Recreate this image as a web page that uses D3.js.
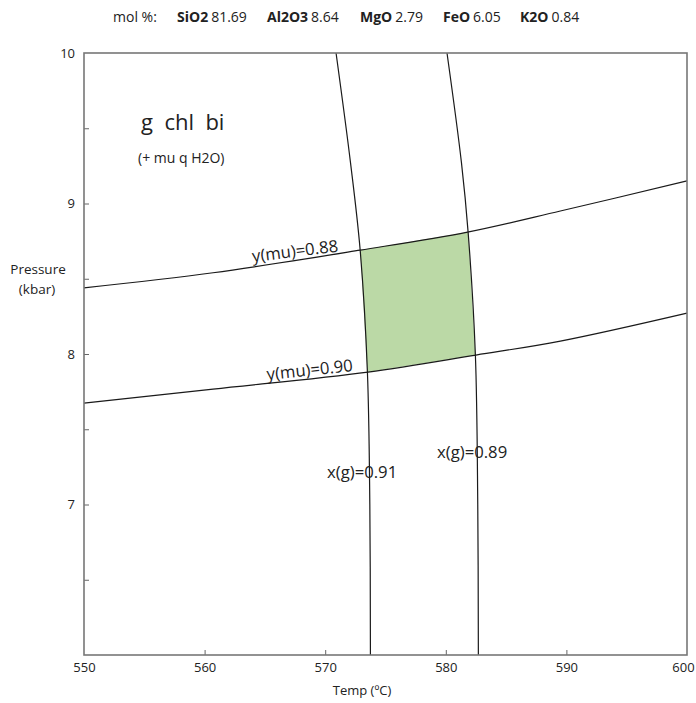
<!DOCTYPE html>
<html>
<head>
<meta charset="utf-8">
<script src="https://cdn.jsdelivr.net/npm/d3@7"></script>
<style>
  body { margin: 0; background: #fff; }
  text { font-family: "Open Sans", sans-serif; fill: #222; }
</style>
</head>
<body>
<div id="chart"></div>
<script>
// bulk composition (mol %)
var oxides = ["SiO2", "Al2O3", "MgO", "FeO", "K2O"];
var molPct = ["81.69", "8.64", "2.79", "6.05", "0.84"];

var tempTicks = [550, 560, 570, 580, 590, 600];
var pressTicks = [7, 8, 9, 10];
var pressMinor = [6.5, 7.5, 8.5, 9.5];

// garnet isopleths  x(g) : T read at each P
var xg091_T = [570.9, 572.1, 572.9, 573.5, 573.7, 573.75];
var xg091_P = [10, 9.27, 8.69, 7.88, 7.0, 6.0];
var xg089_T = [580.1, 581.3, 581.85, 582.45, 582.65, 582.7];
var xg089_P = [10, 9.27, 8.81, 8.0, 7.0, 6.0];

// muscovite isopleths y(mu) : P read at each T
var ymu088_T = [550, 560.7, 572.9, 581.8, 589.5, 600];
var ymu088_P = [8.44, 8.54, 8.69, 8.81, 8.95, 9.15];
var ymu090_T = [550, 560.7, 573.55, 582.5, 589.5, 600];
var ymu090_P = [7.674, 7.767, 7.88, 7.993, 8.086, 8.272];

var W = 696, H = 703;
var margin = {left: 84, right: 9, top: 53, bottom: 48};

var svg = d3.select("#chart").append("svg")
  .attr("width", W)
  .attr("height", H);

var x = d3.scaleLinear().domain([550, 600]).range([margin.left, W - margin.right]);
var y = d3.scaleLinear().domain([6, 10]).range([H - margin.bottom, margin.top]);

// title row
var titleX = [177, 267, 360, 443, 520];
svg.append("text").attr("x", 113).attr("y", 22).style("font-size", "14px").text("mol %:");
oxides.forEach(function(d, i) {
  var t = svg.append("text").attr("x", titleX[i]).attr("y", 22).style("font-size", "14px");
  t.append("tspan").style("font-weight", "bold").text(d);
  t.append("tspan").attr("dx", 3).text(molPct[i]);
});

// stable field shading
var f088 = d3.scaleLinear().domain(ymu088_T).range(ymu088_P);
var f090 = d3.scaleLinear().domain(ymu090_T).range(ymu090_P);
var g091 = d3.scaleLinear().domain(xg091_P).range(xg091_T);
var g089 = d3.scaleLinear().domain(xg089_P).range(xg089_T);

function cross(f, g) {
  var T = 575, P;
  for (var k = 0; k < 30; k++) { P = f(T); T = g(P); }
  return [T, f(T)];
}
var ul = cross(f088, g091), ur = cross(f088, g089);
var lr = cross(f090, g089), ll = cross(f090, g091);

var field = [];
d3.range(0, 1.0001, 0.1).forEach(function(s) { var T = ul[0] + s * (ur[0] - ul[0]); field.push([T, f088(T)]); });
d3.range(0, 1.0001, 0.1).forEach(function(s) { var P = ur[1] + s * (lr[1] - ur[1]); field.push([g089(P), P]); });
d3.range(0, 1.0001, 0.1).forEach(function(s) { var T = lr[0] + s * (ll[0] - lr[0]); field.push([T, f090(T)]); });
d3.range(0, 1.0001, 0.1).forEach(function(s) { var P = ll[1] + s * (ul[1] - ll[1]); field.push([g091(P), P]); });

svg.append("path")
  .datum(field)
  .attr("d", d3.line().x(function(d) { return x(d[0]); }).y(function(d) { return y(d[1]); }))
  .style("fill", "#bbd9a6")
  .style("stroke", "none");

// isopleth curves
var curves = [
  [xg091_T, xg091_P], [xg089_T, xg089_P],
  [ymu088_T, ymu088_P], [ymu090_T, ymu090_P]
];
var line = d3.line()
  .x(function(d) { return x(d[0]); })
  .y(function(d) { return y(d[1]); })
  .curve(d3.curveCatmullRom);

curves.forEach(function(c) {
  svg.append("path")
    .datum(d3.zip(c[0], c[1]))
    .attr("d", line)
    .style("fill", "none")
    .style("stroke", "#1a1a1a")
    .style("stroke-width", 1.2);
});

// curve labels
var labels = [
  {text: "y(mu)=0.88", T: 564.0, P: 8.611, rot: -7},
  {text: "y(mu)=0.90", T: 565.2, P: 7.827, rot: -6},
  {text: "x(g)=0.91", T: 570.15, P: 7.176, rot: 0},
  {text: "x(g)=0.89", T: 579.27, P: 7.309, rot: 0}
];
labels.forEach(function(d) {
  svg.append("text")
    .attr("transform", "translate(" + x(d.T) + "," + y(d.P) + ") rotate(" + d.rot + ")")
    .style("font-size", "16.7px")
    .text(d.text);
});

// assemblage
svg.append("text").attr("x", 141).attr("y", 130).style("font-size", "22px")
  .attr("xml:space", "preserve").text("g  chl  bi");
svg.append("text").attr("x", 138).attr("y", 163).style("font-size", "14px").text("(+ mu q H2O)");

// axes
var xAxis = d3.axisBottom(x).tickValues(tempTicks).tickSize(-5).tickPadding(8);
var gx = svg.append("g").attr("transform", "translate(0," + (H - margin.bottom) + ")").call(xAxis);
var yAxis = d3.axisLeft(y).tickValues(pressTicks.concat(pressMinor)).tickSize(-5).tickPadding(9)
  .tickFormat(function(d) { return pressTicks.indexOf(d) >= 0 ? d : ""; });
var gy = svg.append("g").attr("transform", "translate(" + margin.left + ",0)").call(yAxis);

[gx, gy].forEach(function(g) {
  g.select(".domain").remove();
  g.selectAll(".tick line").style("stroke", "#666");
  g.selectAll(".tick text").style("font-size", "13px").style("fill", "#222")
    .style("font-family", "'Open Sans', sans-serif");
});
gx.selectAll(".tick").filter(function(d) { return d === 550 || d === 600; }).select("line").remove();
gx.selectAll(".tick").filter(function(d) { return d === 600; }).select("text").attr("dx", -4);
gy.selectAll(".tick").filter(function(d) { return d === 10; }).select("line").remove();

svg.append("rect")
  .attr("x", x(550)).attr("y", y(10))
  .attr("width", x(600) - x(550)).attr("height", y(6) - y(10))
  .style("fill", "none")
  .style("stroke", "#777")
  .style("stroke-width", 1.6);

svg.append("text").attr("x", 38).attr("y", 274).attr("text-anchor", "middle")
  .style("font-size", "13.5px").text("Pressure");
svg.append("text").attr("x", 37).attr("y", 294).attr("text-anchor", "middle")
  .style("font-size", "13.5px").text("(kbar)");
svg.append("text").attr("x", 362).attr("y", 695).attr("text-anchor", "middle")
  .style("font-size", "13px").text("Temp (ºC)");
</script>
</body>
</html>
